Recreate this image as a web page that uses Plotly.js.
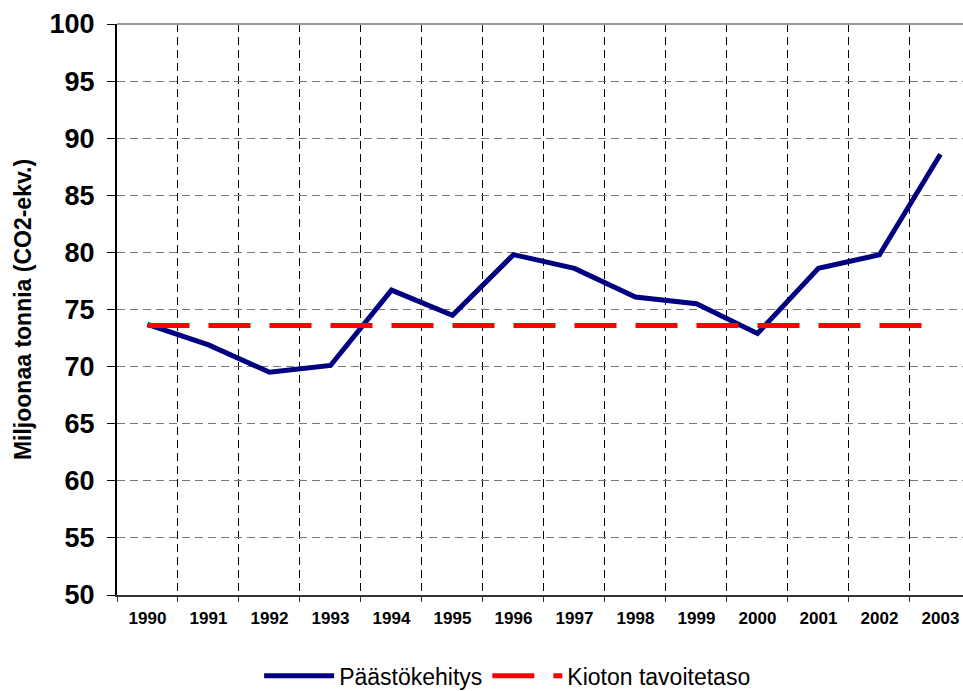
<!DOCTYPE html>
<html>
<head>
<meta charset="utf-8">
<script src="https://cdn.plot.ly/plotly-3.0.1.min.js"></script>
<style>
  html, body { margin: 0; padding: 0; background: #ffffff; }
  #chart { width: 963px; height: 691px; }
</style>
</head>
<body>
<div id="chart"></div>
<script>
const years = ['1990','1991','1992','1993','1994','1995','1996','1997','1998','1999','2000','2001','2002','2003'];
const emissions = [73.7, 71.9, 69.5, 70.1, 76.7, 74.5, 79.8, 78.6, 76.1, 75.5, 72.9, 78.6, 79.8, 88.6];
const kyotoTarget = [73.6, 73.6, 73.6, 73.6, 73.6, 73.6, 73.6, 73.6, 73.6, 73.6, 73.6, 73.6, 73.6, 73.6];
const seriesNames = ['Päästökehitys', 'Kioton tavoitetaso'];
const yTitle = 'Miljoonaa tonnia (CO2-ekv.)';

const FONT = 'Liberation Sans, Arial, sans-serif';

const traces = [
  {
    x: years, y: emissions, name: seriesNames[0], type: 'scatter', mode: 'lines',
    line: { color: '#000080', width: 5 }
  },
  {
    x: years, y: kyotoTarget, name: seriesNames[1], type: 'scatter', mode: 'lines',
    line: { color: '#FF0000', width: 5, dash: '42px,19px' }
  }
];

const layout = {
  width: 963, height: 691,
  paper_bgcolor: '#ffffff', plot_bgcolor: '#ffffff',
  margin: { l: 117, r: 0, t: 24, b: 96, autoexpand: false },
  font: { family: FONT, color: '#000000' },
  showlegend: true,
  legend: {
    orientation: 'h', x: 0.168, xanchor: 'left',
    yref: 'container', y: 0.022, yanchor: 'middle',
    font: { family: FONT, size: 23, color: '#000000' },
    itemwidth: 70, bgcolor: 'rgba(0,0,0,0)'
  },
  xaxis: {
    type: 'category', range: [-0.5, 13.37], autorange: false,
    tickson: 'boundaries', ticks: 'outside', ticklen: 5, tickcolor: '#333333', tickwidth: 1,
    showline: true, linecolor: '#333333', linewidth: 2,
    showgrid: true, gridcolor: '#000000', gridwidth: 1, griddash: '8px,5px',
    tickfont: { family: FONT, size: 17, weight: 'bold', color: '#000000' },
    ticklabelstandoff: 7,
    fixedrange: true
  },
  yaxis: {
    range: [50, 100], autorange: false, dtick: 5, tick0: 50,
    ticks: 'outside', ticklen: 8, tickcolor: '#000000', tickwidth: 1,
    showline: true, linecolor: '#000000', linewidth: 2,
    showgrid: true, gridcolor: '#777777', gridwidth: 1, griddash: '8px,5px',
    zeroline: false,
    tickfont: { family: FONT, size: 27, weight: 'bold', color: '#000000' },
    ticklabelstandoff: 7,
    title: { text: yTitle, font: { family: FONT, size: 23, weight: 'bold', color: '#000000' }, standoff: 11 },
    fixedrange: true
  },
  shapes: [
    { type: 'line', xref: 'paper', yref: 'paper', x0: 0, x1: 1, y0: 1, y1: 1,
      line: { color: '#999999', width: 2 } }
  ]
};

Plotly.newPlot('chart', traces, layout, { displayModeBar: false, staticPlot: true });
</script>
</body>
</html>
